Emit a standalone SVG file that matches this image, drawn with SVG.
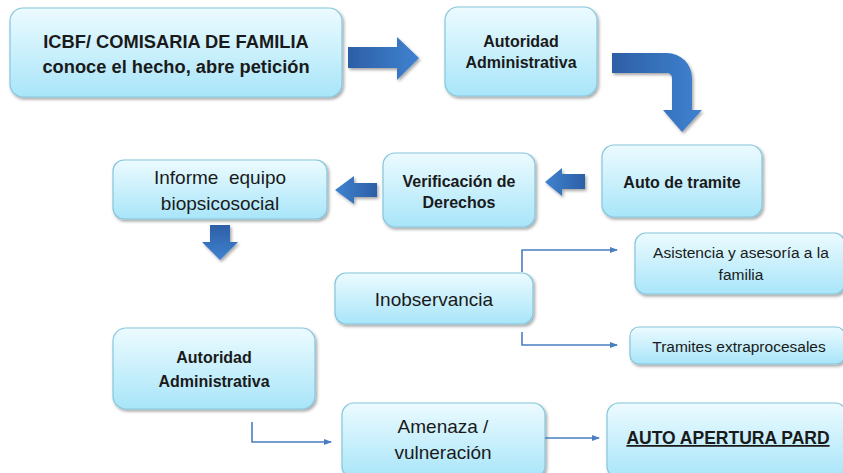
<svg xmlns="http://www.w3.org/2000/svg" width="843" height="473" viewBox="0 0 843 473">
<defs>
<linearGradient id="boxg" x1="0" y1="0" x2="0" y2="1">
<stop offset="0" stop-color="#ecfbff"/>
<stop offset="1" stop-color="#a8e5f9"/>
</linearGradient>
<linearGradient id="arrh" x1="0" y1="0" x2="1" y2="0">
<stop offset="0" stop-color="#2d5fa6"/>
<stop offset="1" stop-color="#3f82d0"/>
</linearGradient>
<linearGradient id="arrhl" x1="1" y1="0" x2="0" y2="0">
<stop offset="0" stop-color="#2d5fa6"/>
<stop offset="1" stop-color="#3f82d0"/>
</linearGradient>
<linearGradient id="arrv" x1="0" y1="0" x2="0" y2="1">
<stop offset="0" stop-color="#2d5fa6"/>
<stop offset="1" stop-color="#3f82d0"/>
</linearGradient>
<filter id="sh" x="-10%" y="-10%" width="125%" height="130%">
<feDropShadow dx="1.5" dy="2" stdDeviation="1.5" flood-color="#000" flood-opacity="0.35"/>
</filter>
<marker id="ah" viewBox="0 0 8 8" refX="7" refY="4" markerWidth="5" markerHeight="5" orient="auto">
<path d="M0,1 L8,4 L0,7 Z" fill="#4a7ec0"/>
</marker>
</defs>
<style>
.box{fill:url(#boxg);stroke:#86c6dc;stroke-width:1.2;filter:url(#sh)}
.t{font-family:"Liberation Sans",Arial,sans-serif;fill:#1a1a1a;text-anchor:middle}
.b{font-weight:bold}
.con{fill:none;stroke:#4a7ec0;stroke-width:1.6}
.blk{filter:url(#sh)}
</style>
<rect width="843" height="473" fill="#ffffff"/>

<g id="n1">
<rect class="box" x="10" y="8" width="332" height="89" rx="13"/>
<text class="t b" x="176" y="48" font-size="18.3">ICBF/ COMISARIA DE FAMILIA</text>
<text class="t b" x="176" y="73" font-size="18.3">conoce el hecho, abre petición</text>
</g>

<g id="n2">
<rect class="box" x="445" y="7" width="152" height="89" rx="13"/>
<text class="t b" x="521" y="47" font-size="16">Autoridad</text>
<text class="t b" x="521" y="68" font-size="16">Administrativa</text>
</g>

<g id="n3">
<rect class="box" x="602" y="145" width="160" height="72" rx="12"/>
<text class="t b" x="682" y="188" font-size="16">Auto de tramite</text>
</g>

<g id="n4">
<rect class="box" x="383" y="153" width="152" height="74" rx="12"/>
<text class="t b" x="459" y="187" font-size="16">Verificación de</text>
<text class="t b" x="459" y="208" font-size="16">Derechos</text>
</g>

<g id="n5">
<rect class="box" x="113" y="160" width="214" height="59" rx="11"/>
<text class="t" x="220" y="184" font-size="19" xml:space="preserve">Informe  equipo</text>
<text class="t" x="220" y="210" font-size="19">biopsicosocial</text>
</g>

<g id="n6">
<rect class="box" x="335" y="273" width="198" height="51" rx="11"/>
<text class="t" x="434" y="306" font-size="19">Inobservancia</text>
</g>

<g id="n7">
<rect class="box" x="635" y="233" width="210" height="61" rx="11"/>
<text class="t" x="741" y="258" font-size="15.5">Asistencia y asesoría a la</text>
<text class="t" x="741" y="280" font-size="15.5">familia</text>
</g>

<g id="n8">
<rect class="box" x="630" y="327" width="215" height="37" rx="9"/>
<text class="t" x="739" y="352" font-size="15.5">Tramites extraprocesales</text>
</g>

<g id="n9">
<rect class="box" x="113" y="328" width="202" height="81" rx="13"/>
<text class="t b" x="214" y="363" font-size="16">Autoridad</text>
<text class="t b" x="214" y="387" font-size="16">Administrativa</text>
</g>

<g id="n10">
<rect class="box" x="342" y="403" width="203" height="75" rx="12"/>
<text class="t" x="443" y="433" font-size="19">Amenaza /</text>
<text class="t" x="443" y="459" font-size="19">vulneración</text>
</g>

<g id="n11">
<rect class="box" x="607" y="403" width="240" height="75" rx="12"/>
<text class="t b" x="728" y="444" font-size="17.5" text-decoration="underline">AUTO APERTURA PARD</text>
</g>

<g id="connectors">
<path class="blk" d="M348,47 L397,47 L397,37 L419,58 L397,80 L397,68 L348,68 Z" fill="url(#arrh)"/>
<path class="blk" d="M612,53 L667,53 A25,25 0 0 1 692,78 L692,110 L702,110 L682,132 L663,110 L672,110 L672,78 A5,5 0 0 0 667,73 L612,73 Z" fill="url(#arrh)"/>
<path class="blk" d="M585,174 L562,174 L562,168 L545,182 L562,196 L562,189 L585,189 Z" fill="url(#arrhl)"/>
<path class="blk" d="M377,183 L354,183 L354,176 L335,190 L354,204 L354,197 L377,197 Z" fill="url(#arrhl)"/>
<path class="blk" d="M210,225 L230,225 L230,242 L238,242 L220,260 L202,242 L210,242 Z" fill="url(#arrv)"/>
<path class="con" d="M522,272 L522,250 L617,250" marker-end="url(#ah)"/>
<path class="con" d="M522,332 L522,345 L617,345" marker-end="url(#ah)"/>
<path class="con" d="M252,422 L252,442 L331,442" marker-end="url(#ah)"/>
<path class="con" d="M545,438 L599,438" marker-end="url(#ah)"/>
</g>
</svg>
